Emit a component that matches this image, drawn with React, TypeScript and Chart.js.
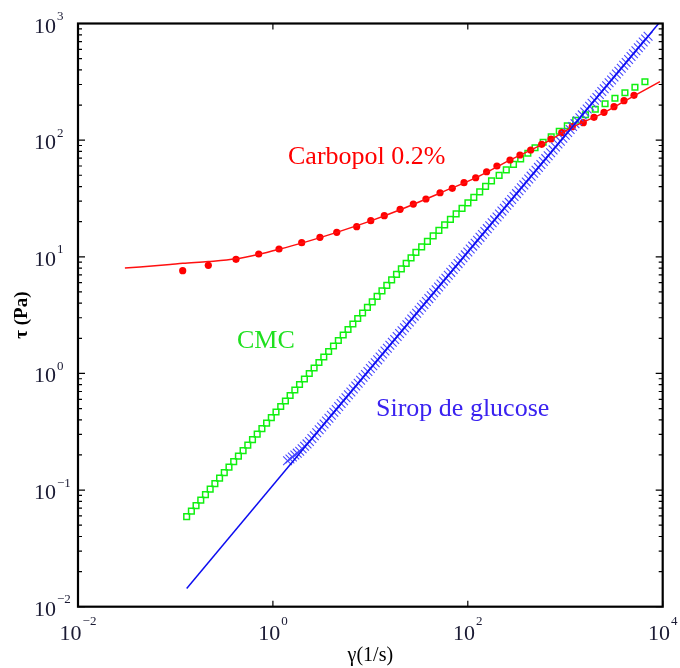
import React, { useEffect, useRef } from 'react';
import { Chart, registerables } from 'chart.js';

Chart.register(...registerables);

// ---------- data (shear rate in 1/s, shear stress in Pa) ----------
const carbopolShearRate = [0.1187, 0.2174, 0.418, 0.715, 1.155, 1.975, 3.04, 4.52, 7.24, 10.1, 13.9, 20.2, 27.6, 37.2, 51.9, 69.3, 91.4, 120.5, 156, 199, 271, 343, 442, 573, 714, 920, 1181, 1532, 1972, 2499, 3164, 4008, 5076];
const carbopolStress = [7.6, 8.45, 9.51, 10.56, 11.66, 13.2, 14.69, 16.2, 18.1, 20.4, 22.5, 25.5, 28.3, 31.3, 35.4, 38.6, 43.2, 47.6, 53.6, 60.0, 67.6, 74.6, 82.3, 92.1, 102.3, 115.8, 130.4, 141.1, 157, 173, 193.5, 218, 242];

const carbopolFitShearRate = [0.0303, 0.088, 0.119, 0.217, 0.418, 0.715, 1.155, 1.975, 4.52, 10.1, 20.2, 51.9, 120, 271, 573, 1181, 2499, 5076, 9380];
const carbopolFitStress = [8.0, 8.6, 8.8, 9.1, 9.6, 10.5, 11.6, 13.1, 16.2, 20.3, 25.3, 35.2, 47.5, 67.5, 91.5, 129, 172, 240, 317];

const cmcShearRate = [0.1303, 0.1457, 0.1627, 0.1819, 0.2032, 0.2272, 0.2539, 0.2837, 0.317, 0.3543, 0.396, 0.4426, 0.4945, 0.5526, 0.6174, 0.6901, 0.7713, 0.8618, 0.9632, 1.076, 1.203, 1.344, 1.502, 1.679, 1.876, 2.105, 2.361, 2.647, 2.968, 3.329, 3.733, 4.185, 4.694, 5.263, 5.901, 6.617, 7.42, 8.321, 9.33, 10.46, 11.73, 13.16, 14.75, 16.54, 18.55, 20.8, 23.32, 26.16, 29.34, 33.62, 38.5, 44.11, 50.52, 57.88, 66.3, 75.91, 87.26, 100.3, 115.3, 132.5, 152.3, 175.1, 209.6, 248.3, 294.3, 348.7, 413.3, 489.8, 592.9, 717.5, 868.1, 1050, 1280, 1613, 2033, 2562, 3236, 4098, 5190, 6573];
const cmcStress = [0.05916, 0.06594, 0.07351, 0.08199, 0.09139, 0.1019, 0.1136, 0.1266, 0.1411, 0.1573, 0.1754, 0.1955, 0.218, 0.243, 0.2709, 0.302, 0.3367, 0.3754, 0.4184, 0.4665, 0.52, 0.5797, 0.6463, 0.7204, 0.8032, 0.8954, 0.9982, 1.113, 1.241, 1.383, 1.542, 1.719, 1.916, 2.136, 2.381, 2.655, 2.959, 3.299, 3.678, 4.1, 4.571, 5.096, 5.681, 6.333, 7.06, 7.871, 8.774, 9.781, 10.9, 12.16, 13.55, 15.11, 16.84, 18.78, 20.93, 23.33, 26.01, 29.0, 32.33, 36.04, 40.18, 44.79, 49.93, 55.67, 62.06, 69.18, 77.13, 85.98, 95.85, 106.9, 119.1, 132.8, 148.0, 165.0, 184.0, 205.1, 228.7, 254.9, 284.2, 316.8];

const siropShearRate = [
  1.413, 1.496, 1.585, 1.679, 1.778, 1.884, 1.995, 2.113, 2.239, 2.371, 2.512, 2.661, 2.818, 2.985, 3.162, 3.35, 3.548, 3.758, 3.981, 4.217, 4.467, 4.732, 5.012, 5.309, 5.623, 5.957, 6.31, 6.683, 7.079, 7.499, 7.943, 8.414, 8.913, 9.441,
  10.0, 10.59, 11.22, 11.89, 12.59, 13.34, 14.13, 14.96, 15.85, 16.79, 17.78, 18.84, 19.95, 21.13, 22.39, 23.71, 25.12, 26.61, 28.18, 29.85, 31.62, 33.5, 35.48, 37.58, 39.81, 42.17, 44.67, 47.32, 50.12, 53.09, 56.23, 59.57, 63.1, 66.83, 70.79, 74.99, 79.43, 84.14, 89.13, 94.41,
  100.0, 105.9, 112.2, 118.9, 125.9, 133.4, 141.3, 149.6, 158.5, 167.9, 177.8, 188.4, 199.5, 211.3, 223.9, 237.1, 251.2, 266.1, 281.8, 298.5, 316.2, 335.0, 354.8, 375.8, 398.1, 421.7, 446.7, 473.2, 501.2, 530.9, 562.3, 595.7, 631.0, 668.3, 707.9, 749.9, 794.3, 841.4, 891.3, 944.1,
  1000, 1059, 1122, 1189, 1259, 1334, 1413, 1496, 1585, 1679, 1778, 1884, 1995, 2113, 2239, 2371, 2512, 2661, 2818, 2985, 3162, 3350, 3548, 3758, 3981, 4217, 4467, 4732, 5012, 5309, 5623, 5957, 6310, 6683, 7079,
];
const siropStress = [
  0.1787, 0.1844, 0.1917, 0.1995, 0.2073, 0.2155, 0.2261, 0.2372, 0.2488, 0.2609, 0.2763, 0.2927, 0.31, 0.3284, 0.3479, 0.3685, 0.3903, 0.4134, 0.4379, 0.4639, 0.4913, 0.5205, 0.5513, 0.584, 0.6186, 0.6552, 0.6941, 0.7352, 0.7787, 0.8249, 0.8738, 0.9255, 0.9804, 1.038,
  1.1, 1.165, 1.234, 1.307, 1.385, 1.467, 1.554, 1.646, 1.743, 1.847, 1.956, 2.072, 2.195, 2.325, 2.463, 2.609, 2.763, 2.927, 3.1, 3.284, 3.479, 3.685, 3.903, 4.134, 4.379, 4.639, 4.913, 5.205, 5.513, 5.84, 6.186, 6.552, 6.941, 7.352, 7.787, 8.249, 8.738, 9.255, 9.804, 10.38,
  11.0, 11.65, 12.34, 13.07, 13.85, 14.67, 15.54, 16.46, 17.43, 18.47, 19.56, 20.72, 21.95, 23.25, 24.63, 26.09, 27.63, 29.27, 31.0, 32.84, 34.79, 36.85, 39.03, 41.34, 43.79, 46.39, 49.13, 52.05, 55.13, 58.4, 61.86, 65.52, 69.41, 73.52, 77.87, 82.49, 87.38, 92.55, 98.04, 103.8,
  110.0, 116.5, 123.4, 130.7, 138.5, 146.7, 155.4, 164.6, 174.3, 184.7, 195.6, 207.2, 219.5, 232.5, 246.3, 260.9, 276.3, 292.7, 310.0, 328.4, 347.9, 368.5, 390.3, 413.4, 437.9, 463.9, 491.3, 520.5, 551.3, 584.0, 618.6, 655.2, 694.1, 735.2, 778.7,
];

const siropFitShearRate = [0.1304, 10000];
const siropFitStress = [0.01434, 1100];

// axis ticks (powers of ten) and texts
const xTickExponents = [-2, 0, 2, 4];
const yTickExponents = [-2, -1, 0, 1, 2, 3];
const yMinorMantissas = [2, 3, 4, 5, 6, 7, 8, 9];
const xAxisTitle = 'γ(1/s)';
const yAxisTitle = 'τ (Pa)';
const annotationTexts = ['Carbopol 0.2%', 'CMC', 'Sirop de glucose'];
const annotationColors = ['#ff0000', '#1fe01f', '#3a22f0'];

// ---------- layout / style ----------
const W = 680;
const H = 668;
const SERIF = '"Liberation Serif", "Times New Roman", serif';
const annotationPos = [
  { x: 288, y: 164 },
  { x: 237, y: 348 },
  { x: 376, y: 416 },
];

const pairs = (xs: number[], ys: number[]) => xs.map((x, i) => ({ x, y: ys[i] }));
const expText = (e: number) => (e < 0 ? '\u2212' + Math.abs(e) : String(e));

const decorPlugin = {
  id: 'decor',
  afterDatasetsDraw(chart: any) {
    const { ctx, chartArea: a, scales } = chart;
    const xs = scales.x;
    const ys = scales.y;
    ctx.save();

    // annotations
    ctx.textAlign = 'left';
    ctx.textBaseline = 'alphabetic';
    ctx.font = `26px ${SERIF}`;
    annotationTexts.forEach((t, i) => {
      ctx.fillStyle = annotationColors[i];
      ctx.fillText(t, annotationPos[i].x, annotationPos[i].y);
    });

    // frame
    ctx.strokeStyle = '#000';
    ctx.lineWidth = 2.2;
    ctx.strokeRect(a.left, a.top, a.right - a.left, a.bottom - a.top);

    // y ticks (inside, both sides)
    ctx.lineWidth = 1.2;
    ctx.beginPath();
    yTickExponents.forEach((e) => {
      const py = ys.getPixelForValue(Math.pow(10, e));
      ctx.moveTo(a.left, py); ctx.lineTo(a.left + 7, py);
      ctx.moveTo(a.right, py); ctx.lineTo(a.right - 7, py);
      if (e < 3) {
        yMinorMantissas.forEach((m) => {
          const pm = ys.getPixelForValue(m * Math.pow(10, e));
          ctx.moveTo(a.left, pm); ctx.lineTo(a.left + 4, pm);
          ctx.moveTo(a.right, pm); ctx.lineTo(a.right - 4, pm);
        });
      }
    });
    // x ticks (major only)
    xTickExponents.forEach((e) => {
      const px = xs.getPixelForValue(Math.pow(10, e));
      ctx.moveTo(px, a.bottom); ctx.lineTo(px, a.bottom - 6);
      ctx.moveTo(px, a.top); ctx.lineTo(px, a.top + 6);
    });
    ctx.stroke();

    // tick labels
    ctx.fillStyle = '#1a1a33';
    yTickExponents.forEach((e) => {
      const py = ys.getPixelForValue(Math.pow(10, e));
      ctx.font = `22px ${SERIF}`;
      ctx.textAlign = 'right';
      ctx.fillText('10', a.left - 22, py + 9);
      ctx.font = `13px ${SERIF}`;
      ctx.textAlign = 'left';
      ctx.fillText(expText(e), a.left - 21, py - 3.5);
    });
    xTickExponents.forEach((e) => {
      const px = xs.getPixelForValue(Math.pow(10, e));
      ctx.font = `22px ${SERIF}`;
      const wb = ctx.measureText('10').width;
      ctx.font = `13px ${SERIF}`;
      const we = ctx.measureText(expText(e)).width;
      const start = px - (wb + 1 + we) / 2;
      ctx.textAlign = 'left';
      ctx.font = `22px ${SERIF}`;
      ctx.fillText('10', start, a.bottom + 33);
      ctx.font = `13px ${SERIF}`;
      ctx.fillText(expText(e), start + wb + 1, a.bottom + 18);
    });

    // axis titles
    ctx.fillStyle = '#000';
    ctx.font = `20px ${SERIF}`;
    ctx.textAlign = 'center';
    ctx.fillText(xAxisTitle, (a.left + a.right) / 2, a.bottom + 54);
    ctx.save();
    ctx.translate(22, (a.top + a.bottom) / 2);
    ctx.rotate(-Math.PI / 2);
    ctx.font = `bold 19px ${SERIF}`;
    ctx.textBaseline = 'middle';
    ctx.fillText(yAxisTitle, 0, 0);
    ctx.restore();

    ctx.restore();
  },
};

export default function App() {
  const ref = useRef<HTMLCanvasElement | null>(null);

  useEffect(() => {
    if (!ref.current) return;
    const chart = new Chart(ref.current, {
      type: 'scatter',
      data: {
        datasets: [
          {
            label: 'Sirop de glucose (fit)',
            data: pairs(siropFitShearRate, siropFitStress),
            showLine: true,
            borderColor: '#0c0cf0',
            borderWidth: 1.5,
            pointRadius: 0,
            order: 1,
          },
          {
            label: 'Carbopol 0.2% (fit)',
            data: pairs(carbopolFitShearRate, carbopolFitStress),
            showLine: true,
            borderColor: '#ff1010',
            borderWidth: 1.5,
            pointRadius: 0,
            cubicInterpolationMode: 'monotone',
            order: 2,
          },
          {
            label: 'Sirop de glucose',
            data: pairs(siropShearRate, siropStress),
            showLine: false,
            pointStyle: 'crossRot',
            pointRadius: 6.2,
            pointBorderWidth: 1.1,
            pointBorderColor: '#4646ff',
            pointBackgroundColor: '#4646ff',
            order: 3,
          },
          {
            label: 'Carbopol 0.2%',
            data: pairs(carbopolShearRate, carbopolStress),
            showLine: false,
            pointStyle: 'circle',
            pointRadius: 3.6,
            pointBorderWidth: 0,
            pointBackgroundColor: '#ff0000',
            pointBorderColor: '#ff0000',
            order: 4,
          },
          {
            label: 'CMC',
            data: pairs(cmcShearRate, cmcStress),
            showLine: false,
            pointStyle: 'rect',
            pointRadius: 4,
            pointBorderWidth: 1.5,
            pointBorderColor: '#10f010',
            pointBackgroundColor: 'rgba(255,255,255,0)',
            order: 5,
          },
        ],
      },
      options: {
        responsive: false,
        animation: false,
        devicePixelRatio: 1,
        events: [],
        layout: { padding: { left: 78, right: 17.3, top: 23.5, bottom: 61.3 } },
        plugins: { legend: { display: false }, tooltip: { enabled: false } },
        scales: {
          x: { type: 'logarithmic', min: 0.01, max: 10000, display: false },
          y: { type: 'logarithmic', min: 0.01, max: 1000, display: false },
        },
      },
      plugins: [decorPlugin],
    } as any);
    return () => chart.destroy();
  }, []);

  return (
    <div style={{ position: 'absolute', left: 0, top: 0, width: W, height: H, background: '#fff' }}>
      <canvas ref={ref} width={W} height={H} style={{ display: 'block' }} />
    </div>
  );
}
